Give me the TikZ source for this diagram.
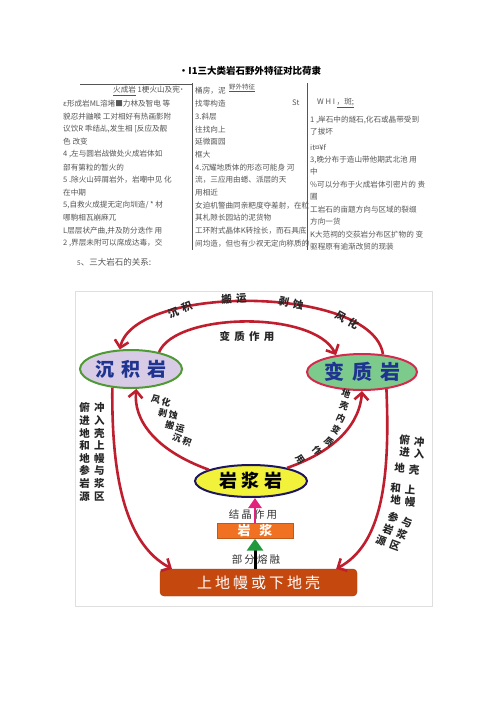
\documentclass[tikz,border=0pt]{standalone}
\usepackage{fontspec}
\usepackage{tikz}
\usetikzlibrary{arrows.meta,shapes.geometric,calc}
\setmainfont{Noto Sans CJK SC}
\newfontfamily\cjksp[LetterSpace=40]{Noto Sans CJK SC}
\newfontfamily\cjkmid[LetterSpace=20]{Noto Sans CJK SC}

\definecolor{arcred}{HTML}{BE1E2D}
\definecolor{sedfill}{HTML}{D8CBE6}
\definecolor{sedline}{HTML}{4F9A35}
\definecolor{metfill}{HTML}{7DCB8C}
\definecolor{metline}{HTML}{D42A4E}
\definecolor{ignfill}{HTML}{F3F23A}
\definecolor{ignline}{HTML}{1C1660}
\definecolor{magfill}{HTML}{F07121}
\definecolor{srcfill}{HTML}{C5490F}
\definecolor{rockblue}{HTML}{1E3490}
\definecolor{crystpink}{HTML}{E2227C}
\definecolor{meltgreen}{HTML}{1E9A3C}
\definecolor{scan}{HTML}{555555}

\tikzset{
  tabtxt/.style={anchor=west, inner sep=0pt, text=scan, font=\fontsize{7.6}{9}\selectfont},
  rock/.style={ellipse, line width=2pt, inner sep=0pt},
  cycle/.style={draw=arcred, line width=2.6pt, -{Straight Barb[length=7pt,width=14pt]}},
  arclbl/.style={inner sep=0pt, text=black!85, font=\cjksp\bfseries\fontsize{10.5}{12.6}\selectfont},
  diaglbl/.style={inner sep=0pt, text=black!85, font=\cjkmid\bfseries\fontsize{9}{10}\selectfont},
  steplbl/.style={inner sep=0pt, text=black!80, font=\cjkmid\fontsize{10.5}{12}\selectfont},
}

\begin{document}
\begin{tikzpicture}[x=1pt, y=-1pt]
  \useasboundingbox (0,0) rectangle (500,707);
  % Title and table
  \node[inner sep=0pt, font=\bfseries\fontsize{9.5}{11}\selectfont] (title) at (250,71) {•I1三大类岩石野外特征对比荷隶};
  \draw[scan, line width=0.8pt] (80,84) -- (192,84);
  \draw[scan, line width=0.8pt] (192,83) -- (192,250);
  \draw[scan, line width=0.8pt] (307,83) -- (307,250);
  \node[tabtxt] (ca0) at (113,91) {\underline{火成岩} 1梗火山及宪˙};
  \foreach \ln [count=\i] in {{ε形成岩ML溶堵■力林及智电 等}, {貌忍并鼬喉 工对相好有热画影附},
      {议饮R 乖结乩,发生相 [反应及靓}, {色 改变}, {4 ,左与圆岩战做处火成岩体如},
      {部有第粒的暂火的}, {5 .除火山碎屑岩外，岩嘲中见 化}, {在中期},
      {5,自救火成提无定向圳造/ * 材}, {哪駒相瓦崩麻兀}, {L层层状产曲,并及防分迭作 用},
      {2 ,界层未附可以席成达毒，交}}
    \node[tabtxt] (ca\i) at (63,{91+12.7*\i}) {\ln};
  \node[tabtxt] (cb0) at (195,91) {桶房，泥};
  \node[tabtxt, font=\fontsize{6.5}{8}\selectfont] (cbh) at (229,88) {\underline{野外特征}};
  \foreach \ln [count=\i] in {{找零构造}, {3.斜层}, {往找向上}, {延微面园}, {框大},
      {4.沉耀地质体的形态可能身 河}, {流，三应用由蟋、派层的天}, {用相近},
      {女迫机警曲同亲粑度夺差射，在粒}, {其札隙长园站的泥货物},
      {工环附式晶体K转拴长，而石具底}, {间均造，但也有少衩无定向称质的}}
    \node[tabtxt] (cb\i) at (195,{91+12.7*\i}) {\ln};
  \node[tabtxt] (st) at (292,103) {St};
  \node[tabtxt] (cc0) at (317,103) {W H I \underline{，斑;}};
  \foreach \y/\ln [count=\i] in {120/{1 ,岸石中的燧石,化石或晶带受到}, 132/{了拔坏}, 147/{it¤¥f},
      160/{3,晚分布于造山带他期武北池 用}, 172/{中}, 185/{\%可以分布于火成岩体引密片的 贵},
      197/{圃}, 210/{工岩石的亩题方向与区域的裂缀}, 222/{方向一货},
      235/{K大范祠的交荻岩分布区扩物的 变}, 247/{驱程原有逾渐改贸的现装}}
    \node[tabtxt] (cc\i) at (310,\y) {\ln};
  \node[tabtxt, font=\fontsize{8.5}{10}\selectfont] (cap) at (77,262) {{\fontsize{6.5}{8}\selectfont 5}、三大岩石的关系:};

  % Diagram frame
  \draw[gray!25] (75,291) rectangle (432,606);
  % Rocks
  \node[rock, draw=sedline, fill=sedfill, minimum width=102pt, minimum height=38pt,
        text=rockblue, font=\bfseries\fontsize{19}{19}\selectfont] (sed) at (131,369)
        {沉\hspace{7pt}积\hspace{7pt}岩};
  \node[rock, draw=metline, fill=metfill, minimum width=110pt, minimum height=36pt,
        text=rockblue, font=\bfseries\fontsize{20}{20}\selectfont] (met) at (362,372)
        {变\hspace{8pt}质\hspace{8pt}岩};
  \node[rock, draw=ignline, fill=ignfill, minimum width=112pt, minimum height=32pt,
        font=\bfseries\fontsize{18}{18}\selectfont] (ign) at (251,481)
        {岩\hspace{5pt}浆\hspace{5pt}岩};
  \node[fill=magfill, draw=magfill!80!black, line width=0.4pt, minimum width=76pt, minimum height=15pt,
        inner sep=0pt, text=white, font=\bfseries\fontsize{13}{13}\selectfont] (mag) at (255,531)
        {岩\hspace{9pt}浆};
  \node[fill=srcfill, draw=srcfill!80!black, rounded corners=4pt, minimum width=197pt,
        minimum height=27pt, inner sep=0pt, text=white,
        font=\cjkmid\fontsize{15}{15}\selectfont] (src) at (258.5,582.5) {上地幔或下地壳};

  % Cycle arrows
  \draw[cycle] (met.40) .. controls +(-10,-69) and +(15,-66) .. (sed.120);
  \draw[cycle] (sed.31) .. controls +(17,-40) and +(-22,-45) .. (met.147);
  \draw[cycle] (sed.225) .. controls +(-1,94) and +(-45,-24) .. (src.171);
  \draw[cycle] (ign.165) .. controls +(-55,-20) and +(-3,30) .. (sed.285);
  \draw[cycle] (ign.20) .. controls +(52,-18) and +(-2,30) .. (met.south);
  \draw[cycle] (met.-35) .. controls +(4,92) and +(45,-24) .. (src.10);

  % Melting and crystallisation
  \node[steplbl] (cryst) at (253,515) {结晶作用};
  \node[steplbl] (melt) at (256,559) {部分熔融};
  \draw[crystpink, line width=2.6pt, -{Triangle[length=10pt,width=13pt]}] (mag.north) -- (mag.north |- ign.south);
  \draw[black, line width=3pt, -{Triangle[length=12pt,width=16pt,color=meltgreen]}] (src.north -| mag.south) -- (mag.south);

  % Labels on the arcs
  \foreach \ln/\x/\y/\a [count=\i] in {沉积/180/310/22, 搬运/234/299/3, 剥蚀/291/303/-12, 风化/347/320/-30}
    \node[arclbl, rotate=\a] (top\i) at (\x,\y) {\ln};
  \node[arclbl] (metlbl) at (247,336) {变质作用};
  \foreach \ln/\x/\y/\a [count=\i] in {风化/161/401/-15, 剥蚀/168/414/-12, 搬运/175/427/-15, 沉积/182/440/-20}
    \node[diaglbl, rotate=\a] (wl\i) at (\x,\y) {\ln};
  \foreach \ln/\x/\y/\a [count=\i] in {地/346/394/-20, 壳/344/406/-20, 内/341/418/-25, 变/336/430/-30,
      质/329/442/-40, 作/317/451/-50, 用/300/459/-55}
    \node[diaglbl, rotate=\a] (cl\i) at (\x,\y) {\ln};
  \node[arclbl, align=center] (lcol) at (92,452) {俯冲\\进入\\地壳\\和上\\地幔\\参与\\岩浆\\源区};
  \foreach \ln/\x/\y/\a [count=\i] in {俯冲/412/441/-5, 进入/412/453/-5, 地壳/407/469/-5, 和上/403/489/-5,
      地幔/403/501/-5, 参与/400/520/-20, 岩浆/395/532/-20, 源区/388/543/-20}
    \node[arclbl, rotate=\a] (rl\i) at (\x,\y) {\ln};
\end{tikzpicture}
\end{document}
